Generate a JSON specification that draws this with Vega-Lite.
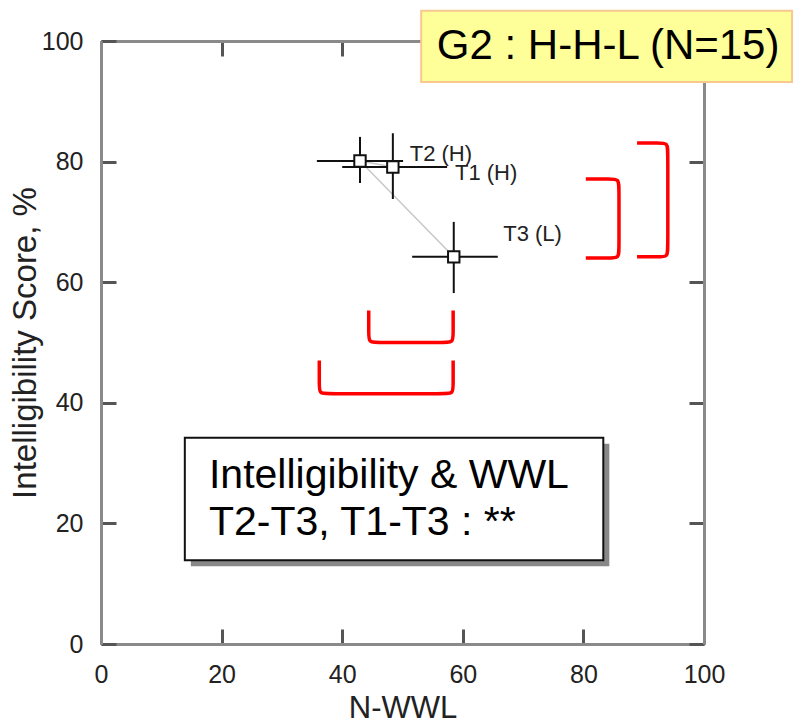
{
  "$schema": "https://vega.github.io/schema/vega-lite/v6.json",
  "width": 603,
  "height": 603,
  "autosize": {"type": "none"},
  "padding": {"left": 101, "top": 41, "right": 97, "bottom": 80},
  "background": "white",
  "config": {
    "view": {"stroke": null},
    "font": "Liberation Sans",
    "axis": {
      "grid": false,
      "domainColor": "#8a8a8a",
      "domainWidth": 3,
      "tickColor": "#555555",
      "tickWidth": 3,
      "tickSize": -15,
      "labelFlush": false,
      "labelOverlap": false,
      "labelFont": "Liberation Sans",
      "labelFontSize": 25,
      "labelColor": "#222222",
      "titleFont": "Liberation Sans",
      "titleFontSize": 31,
      "titleFontWeight": "normal",
      "titleColor": "#222222"
    }
  },
  "datasets": {
    "points": [
      {"t": "T1", "ord": 1, "x": 48.4, "y": 79.1, "xlo": 40.0, "xhi": 57.4, "ylo": 73.8, "yhi": 84.7, "lx": 58.7, "ly": 76.9, "label": "T1 (H)"},
      {"t": "T2", "ord": 2, "x": 42.95, "y": 80.1, "xlo": 35.8, "xhi": 50.1, "ylo": 76.45, "yhi": 84.1, "lx": 51.2, "ly": 80.15, "label": "T2 (H)"},
      {"t": "T3", "ord": 3, "x": 58.5, "y": 64.2, "xlo": 51.6, "xhi": 65.8, "ylo": 58.2, "yhi": 70.0, "lx": 66.7, "ly": 66.9, "label": "T3 (L)"}
    ],
    "brackets": [
      {"b": "A", "o": 1, "x": 44.4, "y": 55.3}, {"b": "A", "o": 2, "x": 44.4, "y": 51.5}, {"b": "A", "o": 3, "x": 44.4, "y": 50.0}, {"b": "A", "o": 4, "x": 45.9, "y": 50.0},
      {"b": "A", "o": 5, "x": 56.9, "y": 50.0}, {"b": "A", "o": 6, "x": 58.4, "y": 50.0}, {"b": "A", "o": 7, "x": 58.4, "y": 51.5}, {"b": "A", "o": 8, "x": 58.4, "y": 55.3},
      {"b": "B", "o": 1, "x": 36.2, "y": 47.0}, {"b": "B", "o": 2, "x": 36.2, "y": 43.0}, {"b": "B", "o": 3, "x": 36.2, "y": 41.5}, {"b": "B", "o": 4, "x": 37.7, "y": 41.5},
      {"b": "B", "o": 5, "x": 56.9, "y": 41.5}, {"b": "B", "o": 6, "x": 58.4, "y": 41.5}, {"b": "B", "o": 7, "x": 58.4, "y": 43.0}, {"b": "B", "o": 8, "x": 58.4, "y": 47.0},
      {"b": "C", "o": 1, "x": 80.4, "y": 77.1}, {"b": "C", "o": 2, "x": 84.4, "y": 77.1}, {"b": "C", "o": 3, "x": 85.9, "y": 77.1}, {"b": "C", "o": 4, "x": 85.9, "y": 75.6},
      {"b": "C", "o": 5, "x": 85.9, "y": 65.5}, {"b": "C", "o": 6, "x": 85.9, "y": 64.0}, {"b": "C", "o": 7, "x": 84.4, "y": 64.0}, {"b": "C", "o": 8, "x": 80.4, "y": 64.0},
      {"b": "D", "o": 1, "x": 88.9, "y": 83.1}, {"b": "D", "o": 2, "x": 92.5, "y": 83.1}, {"b": "D", "o": 3, "x": 94.0, "y": 83.1}, {"b": "D", "o": 4, "x": 94.0, "y": 81.6},
      {"b": "D", "o": 5, "x": 94.0, "y": 65.7}, {"b": "D", "o": 6, "x": 94.0, "y": 64.2}, {"b": "D", "o": 7, "x": 92.5, "y": 64.2}, {"b": "D", "o": 8, "x": 88.9, "y": 64.2}
    ]
  },
  "resolve": {"axis": {"x": "independent", "y": "independent"}},
  "layer": [
    {
      "data": {"name": "points"},
      "mark": {"type": "line", "color": "#c8c8c8", "strokeWidth": 1.5},
      "encoding": {
        "x": {"field": "x", "type": "quantitative", "scale": {"domain": [0, 100], "nice": false, "zero": false},
              "axis": {"orient": "bottom", "values": [0, 20, 40, 60, 80, 100], "title": "N-WWL", "labelPadding": 33, "titlePadding": 6}},
        "y": {"field": "y", "type": "quantitative", "scale": {"domain": [0, 100], "nice": false, "zero": false},
              "axis": {"orient": "left", "values": [0, 20, 40, 60, 80, 100], "title": "Intelligibility Score, %", "titleFontSize": 33, "labelPadding": 33, "titlePadding": -1}},
        "order": {"field": "ord"}
      }
    },
    {
      "data": {"name": "points"},
      "mark": {"type": "rule", "color": "#111111", "strokeWidth": 2},
      "encoding": {
        "x": {"field": "xlo", "type": "quantitative", "axis": null},
        "x2": {"field": "xhi"},
        "y": {"field": "y", "type": "quantitative", "axis": null}
      }
    },
    {
      "data": {"name": "points"},
      "mark": {"type": "rule", "color": "#111111", "strokeWidth": 2},
      "encoding": {
        "x": {"field": "x", "type": "quantitative", "axis": null},
        "y": {"field": "ylo", "type": "quantitative", "axis": null},
        "y2": {"field": "yhi"}
      }
    },
    {
      "data": {"name": "points"},
      "mark": {"type": "point", "shape": "square", "size": 130, "filled": false, "fill": "white", "fillOpacity": 1, "stroke": "#111111", "strokeWidth": 2, "opacity": 1},
      "encoding": {
        "x": {"field": "x", "type": "quantitative",
              "axis": {"orient": "top", "values": [0, 20, 40, 60, 80, 100], "labels": false, "title": null}},
        "y": {"field": "y", "type": "quantitative",
              "axis": {"orient": "right", "values": [0, 20, 40, 60, 80, 100], "labels": false, "title": null}}
      }
    },
    {
      "data": {"name": "points"},
      "mark": {"type": "text", "align": "left", "baseline": "alphabetic", "fontSize": 22, "color": "#222222"},
      "encoding": {
        "x": {"field": "lx", "type": "quantitative", "axis": null},
        "y": {"field": "ly", "type": "quantitative", "axis": null},
        "text": {"field": "label"}
      }
    },
    {
      "data": {"name": "brackets"},
      "mark": {"type": "line", "color": "#ff0000", "strokeWidth": 3.5, "interpolate": "basis"},
      "encoding": {
        "x": {"field": "x", "type": "quantitative", "axis": null},
        "y": {"field": "y", "type": "quantitative", "axis": null},
        "detail": {"field": "b"},
        "order": {"field": "o"}
      }
    },
    {
      "data": {"values": [{"x": 14.9, "x2": 84.3, "y": 12.9, "y2": 33.2}]},
      "mark": {"type": "rect", "fill": "#888888"},
      "encoding": {
        "x": {"field": "x", "type": "quantitative", "axis": null},
        "x2": {"field": "x2"},
        "y": {"field": "y", "type": "quantitative", "axis": null},
        "y2": {"field": "y2"}
      }
    },
    {
      "data": {"values": [{"x": 13.9, "x2": 83.3, "y": 13.9, "y2": 34.2}]},
      "mark": {"type": "rect", "fill": "white", "stroke": "#111111", "strokeWidth": 2},
      "encoding": {
        "x": {"field": "x", "type": "quantitative", "axis": null},
        "x2": {"field": "x2"},
        "y": {"field": "y", "type": "quantitative", "axis": null},
        "y2": {"field": "y2"}
      }
    },
    {
      "data": {"values": [{"x": 17.9, "y": 25.9, "text": "Intelligibility & WWL"}, {"x": 17.9, "y": 18.1, "text": "T2-T3, T1-T3 : **"}]},
      "mark": {"type": "text", "align": "left", "baseline": "alphabetic", "fontSize": 41, "color": "#000000"},
      "encoding": {
        "x": {"field": "x", "type": "quantitative", "axis": null},
        "y": {"field": "y", "type": "quantitative", "axis": null},
        "text": {"field": "text"}
      }
    },
    {
      "data": {"values": [{"x": 53.1, "x2": 114.6, "y": 93.2, "y2": 105.0}]},
      "mark": {"type": "rect", "fill": "#ffff99", "stroke": "#f8c88e", "strokeWidth": 2},
      "encoding": {
        "x": {"field": "x", "type": "quantitative", "axis": null},
        "x2": {"field": "x2"},
        "y": {"field": "y", "type": "quantitative", "axis": null},
        "y2": {"field": "y2"}
      }
    },
    {
      "data": {"values": [{"x": 84.1, "y": 99.1, "text": "G2 : H-H-L (N=15)"}]},
      "mark": {"type": "text", "align": "center", "baseline": "middle", "fontSize": 42, "color": "#000000"},
      "encoding": {
        "x": {"field": "x", "type": "quantitative", "axis": null},
        "y": {"field": "y", "type": "quantitative", "axis": null},
        "text": {"field": "text"}
      }
    }
  ]
}
